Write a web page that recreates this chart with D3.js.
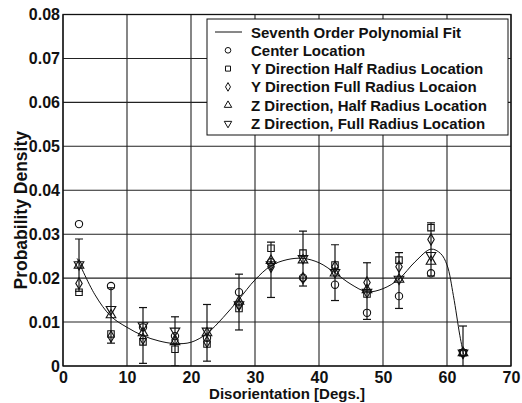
<!DOCTYPE html>
<html>
<head>
<meta charset="utf-8">
<script src="https://cdn.jsdelivr.net/npm/d3@7"></script>
<style>
  body { margin: 0; background: #fff; }
  text { font-family: "Liberation Sans", Arial, sans-serif; fill: #111; font-weight: bold; }
</style>
</head>
<body>
<div id="chart"></div>
<script>

// bin centres (degrees)
const bins = [2.5, 7.5, 12.5, 17.5, 22.5, 27.5, 32.5, 37.5, 42.5, 47.5, 52.5, 57.5, 62.5];

// measured probability density per location
const centerLoc = [0.0323, 0.0182, 0.0088, 0.0068, 0.0064, 0.0168, 0.0236, 0.0201, 0.0185, 0.0121, 0.0159, 0.0211, 0.0030];
const yHalf     = [0.0168, 0.0073, 0.0055, 0.0038, 0.0050, 0.0131, 0.0268, 0.0257, 0.0230, 0.0164, 0.0241, 0.0315, 0.0030];
const yFull     = [0.0188, 0.0067, 0.0062, 0.0059, 0.0055, 0.0139, 0.0226, 0.0200, 0.0226, 0.0190, 0.0226, 0.0288, 0.0030];
const zHalf     = [0.0229, 0.0116, 0.0075, 0.0055, 0.0075, 0.0147, 0.0240, 0.0241, 0.0211, 0.0173, 0.0197, 0.0238, 0.0030];
const zFull     = [0.0231, 0.0129, 0.0092, 0.0080, 0.0080, 0.0140, 0.0231, 0.0245, 0.0213, 0.0168, 0.0198, 0.0252, 0.0030];

// error bar ends
const errHigh = [0.0289, 0.0178, 0.0133, 0.0112, 0.0140, 0.0209, 0.0282, 0.0307, 0.0276, 0.0235, 0.0258, 0.0326, 0.0091];
const errLow  = [0.0170, 0.0052, 0.0006, 0.0000, 0.0011, 0.0082, 0.0156, 0.0182, 0.0149, 0.0106, 0.0131, 0.0205, -0.0031];

// polynomial fit curve
const fitX = [2.2, 5, 7.5, 10, 12.5, 15, 17.5, 20, 22.5, 25, 27.5, 30, 32.5, 35, 37.5, 40, 42.5, 45, 47.5, 50, 52.5, 55, 57.5, 59, 60, 61, 62, 62.6];
const fitY = [0.0245, 0.0162, 0.0113, 0.0088, 0.0069, 0.0057, 0.0051, 0.0054, 0.0074, 0.0110, 0.0152, 0.0196, 0.0228, 0.0242, 0.0245, 0.0235, 0.0212, 0.0186, 0.0169, 0.0176, 0.0198, 0.0237, 0.0266, 0.0256, 0.0230, 0.0160, 0.0070, 0.0026];

const xTicks = [0, 10, 20, 30, 40, 50, 60, 70];
const yTicks = [0, 0.01, 0.02, 0.03, 0.04, 0.05, 0.06, 0.07, 0.08];

const legendLabels = [
    "Seventh Order Polynomial Fit",
    "Center Location",
    "Y Direction Half Radius Location",
    "Y Direction Full Radius Locaion",
    "Z Direction, Half Radius Location",
    "Z Direction, Full Radius Location"
];

let margin = { top: 14.5, right: 11, bottom: 37, left: 63 };
let width = 522 - margin.left - margin.right,
    height = 403 - margin.top - margin.bottom;

let svg = d3.select("#chart").append("svg")
    .attr("width", 522)
    .attr("height", 403);

let g = svg.append("g")
    .attr("transform", "translate(" + margin.left + "," + margin.top + ")");

g.append("defs").append("clipPath")
    .attr("id", "clip")
    .append("rect")
    .attr("width", width)
    .attr("height", height);

let x = d3.scaleLinear().domain([0, 70]).range([0, width]);
let y = d3.scaleLinear().domain([0, 0.08]).range([height, 0]);

// grid
g.append("g")
    .attr("class", "grid")
    .selectAll("line.v")
    .data(xTicks)
    .enter().append("line")
    .attr("x1", d => x(d)).attr("x2", d => x(d))
    .attr("y1", 0).attr("y2", height)
    .attr("stroke", "#222").attr("stroke-width", 1.1);

g.append("g")
    .attr("class", "grid")
    .selectAll("line.h")
    .data(yTicks)
    .enter().append("line")
    .attr("x1", 0).attr("x2", width)
    .attr("y1", d => y(d)).attr("y2", d => y(d))
    .attr("stroke", "#222").attr("stroke-width", 1.1);

g.append("rect")
    .attr("width", width).attr("height", height)
    .attr("fill", "none").attr("stroke", "#111").attr("stroke-width", 1.3);

// axes (labels only, gridlines already drawn)
let xAxis = d3.axisBottom(x).tickValues(xTicks).tickSize(0).tickPadding(6).tickFormat(d3.format("d"));
let yAxis = d3.axisLeft(y).tickValues(yTicks).tickSize(0).tickPadding(3)
    .tickFormat(d => d === 0 ? "0" : d3.format(".2f")(d));

g.append("g")
    .attr("transform", "translate(0," + height + ")")
    .call(xAxis)
    .call(a => a.select(".domain").remove())
    .selectAll("text").style("font-size", "16px").attr("fill", "#111");

g.append("g")
    .call(yAxis)
    .call(a => a.select(".domain").remove())
    .selectAll("text").style("font-size", "16px").attr("fill", "#111");

// axis titles
svg.append("text")
    .attr("x", margin.left + width / 2)
    .attr("y", 399)
    .attr("text-anchor", "middle")
    .style("font-size", "15px")
    .text("Disorientation [Degs.]");

svg.append("text")
    .attr("transform", "translate(27," + (margin.top + height / 2 + 20) + ") rotate(-90)")
    .attr("text-anchor", "middle")
    .style("font-size", "17.5px")
    .text("Probability Density");

let plot = g.append("g").attr("clip-path", "url(#clip)");

// fit curve
let line = d3.line()
    .x(d => x(d[0]))
    .y(d => y(d[1]))
    .curve(d3.curveCatmullRom.alpha(0.5));

plot.append("path")
    .datum(fitX.map((v, i) => [v, fitY[i]]))
    .attr("fill", "none")
    .attr("stroke", "#111")
    .attr("stroke-width", 1)
    .attr("d", line);

// error bars
let eb = plot.append("g").selectAll("g")
    .data(bins.map((b, i) => ({ b: b, hi: errHigh[i], lo: errLow[i] })))
    .enter().append("g")
    .attr("stroke", "#111").attr("stroke-width", 1.2);

eb.append("line")
    .attr("x1", d => x(d.b)).attr("x2", d => x(d.b))
    .attr("y1", d => y(d.hi)).attr("y2", d => y(d.lo));
eb.append("line")
    .attr("x1", d => x(d.b) - 4).attr("x2", d => x(d.b) + 4)
    .attr("y1", d => y(d.hi)).attr("y2", d => y(d.hi));
eb.append("line")
    .attr("x1", d => x(d.b) - 4).attr("x2", d => x(d.b) + 4)
    .attr("y1", d => y(d.lo)).attr("y2", d => y(d.lo));

// markers
let series = [
    { vals: centerLoc, sym: d3.symbolCircle, size: 42 },
    { vals: yHalf, sym: d3.symbolSquare, size: 42 },
    { vals: yFull, sym: d3.symbolDiamond, size: 36 },
    { vals: zHalf, sym: d3.symbolTriangle, size: 40 },
    { vals: zFull, sym: d3.symbolTriangle, size: 40, flip: true }
];

series.forEach(function(s) {
    let sym = d3.symbol().type(s.sym).size(s.size);
    plot.append("g").selectAll("path")
        .data(s.vals)
        .enter().append("path")
        .attr("d", sym)
        .attr("transform", (d, i) => "translate(" + x(bins[i]) + "," + y(d) + ")" + (s.flip ? " rotate(180)" : ""))
        .attr("fill", "none")
        .attr("stroke", "#111")
        .attr("stroke-width", 1.1);
});

// legend
let leg = svg.append("g");
leg.append("rect")
    .attr("x", 207).attr("y", 19)
    .attr("width", 301).attr("height", 116)
    .attr("fill", "#fff").attr("stroke", "#111").attr("stroke-width", 1);

legendLabels.forEach(function(lab, i) {
    let cy = 32 + i * 18.3;
    if (i === 0) {
        leg.append("line")
            .attr("x1", 215).attr("x2", 242)
            .attr("y1", cy).attr("y2", cy)
            .attr("stroke", "#111").attr("stroke-width", 1);
    } else {
        let s = series[i - 1];
        leg.append("path")
            .attr("d", d3.symbol().type(s.sym).size(s.size * 0.6))
            .attr("transform", "translate(228," + cy + ")" + (s.flip ? " rotate(180)" : ""))
            .attr("fill", "none").attr("stroke", "#111").attr("stroke-width", 1);
    }
    leg.append("text")
        .attr("x", 251)
        .attr("y", cy + 5.5)
        .style("font-size", "15px")
        .text(lab);
});

</script>
</body>
</html>
